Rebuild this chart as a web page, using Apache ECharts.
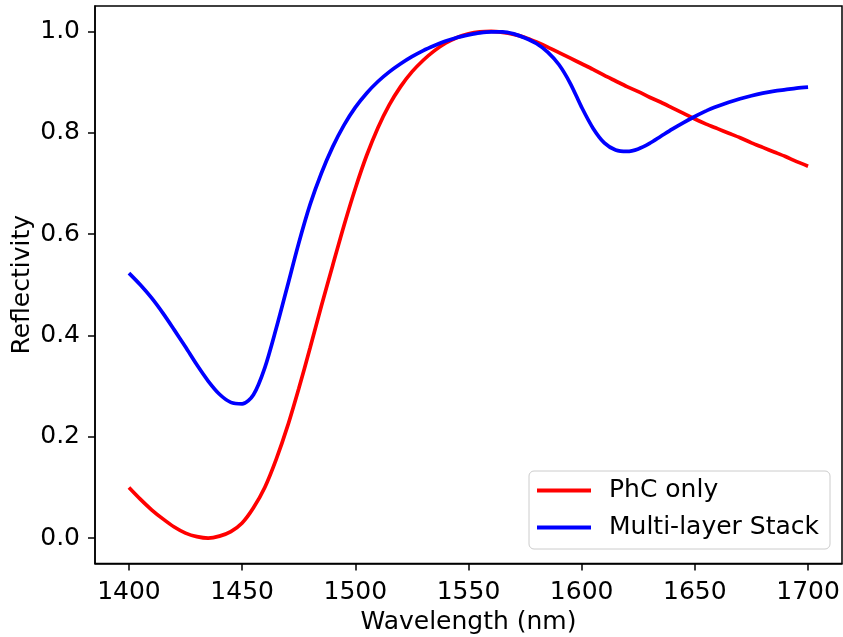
<!DOCTYPE html>
<html>
<head>
<meta charset="utf-8">
<script src="https://cdn.jsdelivr.net/npm/echarts@6/dist/echarts.min.js"></script>
<style>
  html, body { margin: 0; padding: 0; background: #fff; }
  #chart { width: 843px; height: 637px; }
</style>
</head>
<body>
<div id="chart"></div>
<script>
// Wavelength grid (nm), 5 nm steps
const wavelength = [];
for (let w = 1400; w <= 1700; w += 5) wavelength.push(w);

// Reflectivity of the photonic crystal alone
const phcOnly = [
  0.100, 0.077, 0.056, 0.038, 0.022, 0.010, 0.003, 0.000, 0.004, 0.013,
  0.030, 0.060, 0.100, 0.155, 0.220, 0.295, 0.375, 0.458, 0.538, 0.617,
  0.690, 0.755, 0.810, 0.855, 0.891, 0.920, 0.943, 0.962, 0.977, 0.988,
  0.995, 0.999, 1.000, 0.998, 0.994, 0.988, 0.979, 0.969, 0.958, 0.947,
  0.936, 0.925, 0.913, 0.902, 0.891, 0.881, 0.870, 0.860, 0.849, 0.838,
  0.827, 0.817, 0.808, 0.799, 0.790, 0.780, 0.771, 0.762, 0.753, 0.743,
  0.734
];

// Reflectivity of the full multi-layer stack
const multiLayer = [
  0.523, 0.500, 0.474, 0.444, 0.411, 0.377, 0.342, 0.310, 0.284, 0.268,
  0.265, 0.283, 0.336, 0.413, 0.497, 0.582, 0.658, 0.720, 0.772, 0.815,
  0.850, 0.878, 0.901, 0.920, 0.936, 0.950, 0.962, 0.972, 0.981, 0.988,
  0.993, 0.997, 0.999, 0.999, 0.995, 0.987, 0.976, 0.959, 0.934, 0.897,
  0.850, 0.809, 0.780, 0.766, 0.763, 0.768, 0.779, 0.793, 0.807, 0.820,
  0.832, 0.843, 0.852, 0.860, 0.867, 0.873, 0.878, 0.882, 0.885, 0.888,
  0.890
];

// Tick positions
const xTicks = [1400, 1450, 1500, 1550, 1600, 1650, 1700];
const yTicks = [0.0, 0.2, 0.4, 0.6, 0.8, 1.0];

const FONT = 'DejaVu Sans';
const FS = 25;
const pair = (xs, ys) => xs.map((x, i) => [x, ys[i]]);

const chart = echarts.init(document.getElementById('chart'), null, { renderer: 'canvas' });

chart.setOption({
  animation: false,
  backgroundColor: '#ffffff',
  textStyle: { fontFamily: FONT, color: '#000' },
  grid: {
    left: 95, right: 1, top: 6, bottom: 73.5,
    outerBoundsMode: 'none',
    containLabel: false,
    show: true, borderColor: '#000', borderWidth: 1.5, backgroundColor: 'transparent'
  },
  legend: {
    orient: 'vertical',
    left: 529, top: 471,
    padding: [7, 11, 9, 8],
    itemGap: 12,
    itemWidth: 54,
    itemHeight: 4,
    icon: 'rect',
    backgroundColor: 'rgba(255,255,255,0.8)',
    borderColor: '#cccccc',
    borderWidth: 1,
    borderRadius: 5,
    textStyle: { fontFamily: FONT, fontSize: FS, color: '#000', padding: [0, 0, 0, 13] },
    data: ['PhC only', 'Multi-layer Stack']
  },
  xAxis: {
    type: 'value',
    min: 1385, max: 1715,
    name: 'Wavelength (nm)',
    nameLocation: 'middle',
    nameGap: 46,
    nameMoveOverlap: false,
    nameTextStyle: { fontFamily: FONT, fontSize: FS, color: '#000' },
    axisLine: { show: true, onZero: false, lineStyle: { color: '#000', width: 1.5 } },
    axisTick: { show: true, length: 7, lineStyle: { color: '#000', width: 1.5 }, customValues: xTicks },
    axisLabel: {
      fontFamily: FONT, fontSize: FS, color: '#000', margin: 16,
      customValues: xTicks,
      formatter: v => String(Math.round(v))
    },
    splitLine: { show: false }
  },
  yAxis: {
    type: 'value',
    min: -0.05, max: 1.05,
    name: 'Reflectivity',
    nameLocation: 'middle',
    nameGap: 60,
    nameMoveOverlap: false,
    nameRotate: 90,
    nameTextStyle: { fontFamily: FONT, fontSize: FS, color: '#000' },
    axisLine: { show: true, onZero: false, lineStyle: { color: '#000', width: 1.5 } },
    axisTick: { show: true, length: 7, lineStyle: { color: '#000', width: 1.5 }, customValues: yTicks },
    axisLabel: {
      fontFamily: FONT, fontSize: FS, color: '#000', margin: 15,
      customValues: yTicks,
      formatter: v => Number(v).toFixed(1)
    },
    splitLine: { show: false }
  },
  series: [
    {
      name: 'PhC only',
      type: 'line',
      data: pair(wavelength, phcOnly),
      smooth: 0.3,
      showSymbol: false,
      symbol: 'none',
      color: '#ff0000',
      lineStyle: { color: '#ff0000', width: 3.7 },
      z: 2
    },
    {
      name: 'Multi-layer Stack',
      type: 'line',
      data: pair(wavelength, multiLayer),
      smooth: 0.3,
      showSymbol: false,
      symbol: 'none',
      color: '#0000ff',
      lineStyle: { color: '#0000ff', width: 3.7 },
      z: 3
    }
  ]
});
</script>
</body>
</html>
